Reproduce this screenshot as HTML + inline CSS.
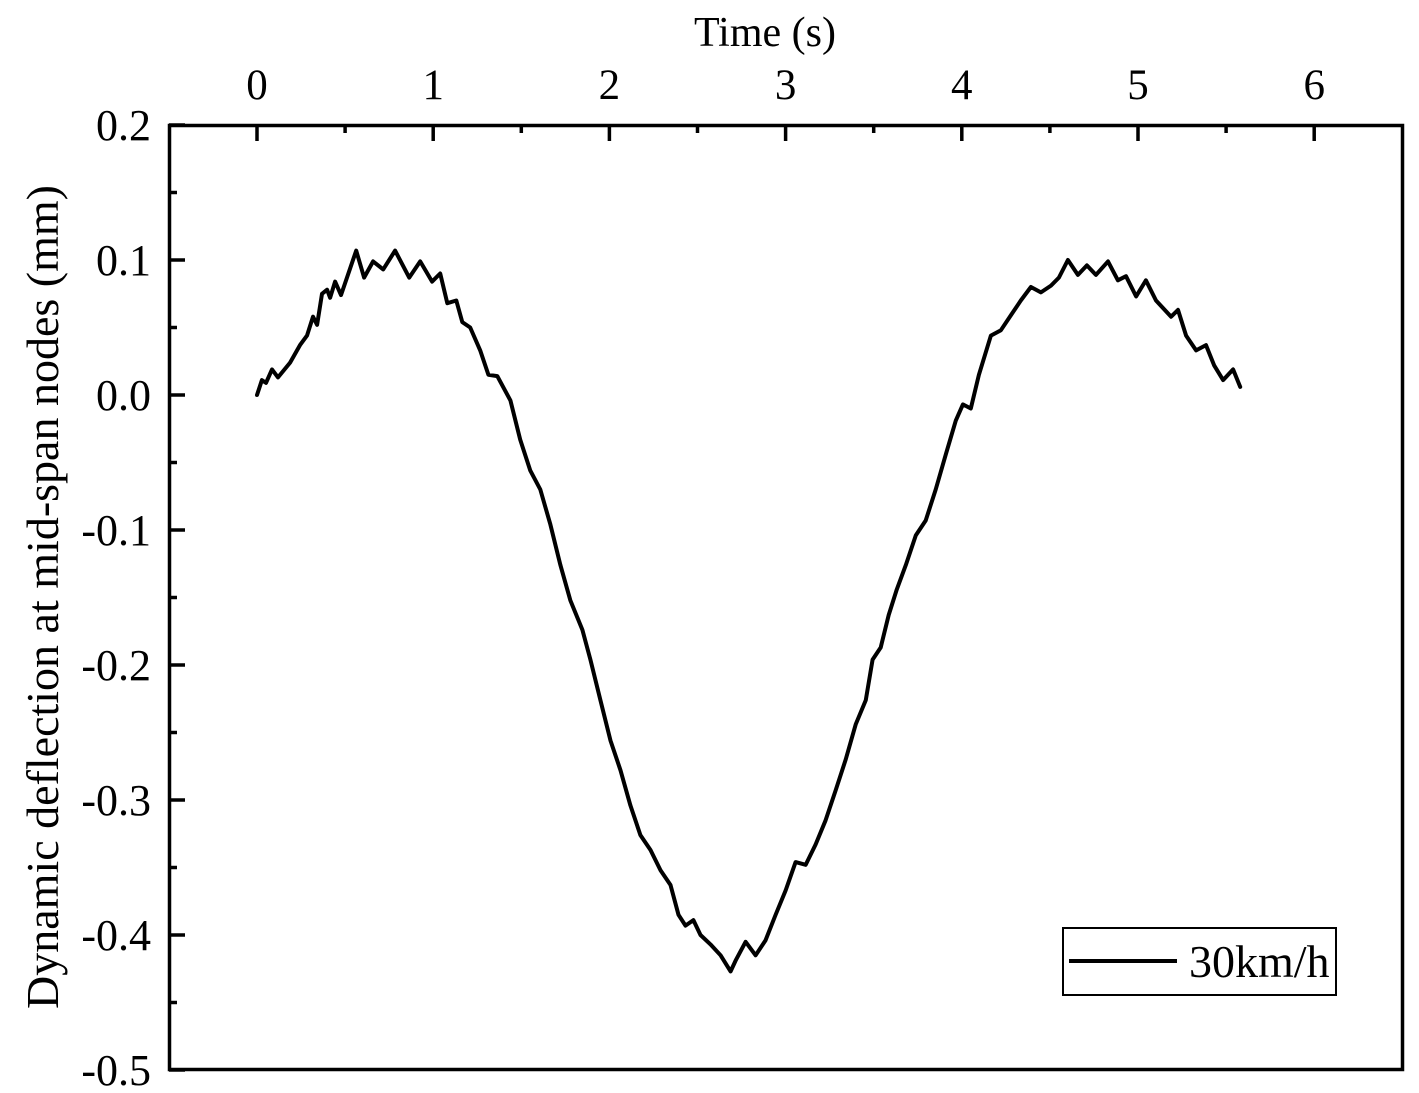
<!DOCTYPE html>
<html><head><meta charset="utf-8"><style>
html,body{margin:0;padding:0;background:#fff;}
svg{display:block;font-family:"Liberation Serif",serif;}
</style></head><body>
<svg id="chart" width="1419" height="1093" viewBox="0 0 1419 1093" xmlns="http://www.w3.org/2000/svg">
<g id="axes"></g>
<polyline id="series" fill="none" stroke="#000" stroke-width="4" stroke-linejoin="round" stroke-linecap="round"/>
<rect x="169.5" y="125.5" width="1233" height="944" fill="none" stroke="#000" stroke-width="3.5"/>
<g>
<rect x="1063" y="928" width="273" height="67" fill="#fff" stroke="#000" stroke-width="2"/>
<line x1="1069" y1="961" x2="1177" y2="961" stroke="#000" stroke-width="4"/>
<text x="1189" y="977" font-size="46">30km/h</text>
</g>
<text x="765" y="46" font-size="42" text-anchor="middle">Time (s)</text>
<text transform="translate(58,597) rotate(-90)" font-size="46" text-anchor="middle">Dynamic deflection at mid-span nodes (mm)</text>
</svg>
<script>
const times = [0,0.028,0.051,0.085,0.119,0.188,0.244,0.284,0.318,0.341,0.369,0.398,0.415,0.443,0.477,0.563,0.608,0.659,0.716,0.784,0.864,0.926,0.994,1.040,1.080,1.131,1.165,1.210,1.267,1.313,1.364,1.438,1.494,1.551,1.608,1.665,1.722,1.778,1.847,1.892,1.949,2.006,2.063,2.119,2.176,2.233,2.290,2.347,2.392,2.432,2.477,2.517,2.574,2.631,2.688,2.716,2.773,2.830,2.886,2.943,3.000,3.057,3.114,3.170,3.227,3.284,3.341,3.398,3.455,3.494,3.540,3.585,3.631,3.682,3.739,3.795,3.852,3.909,3.966,4.006,4.051,4.097,4.165,4.222,4.278,4.335,4.392,4.449,4.506,4.551,4.602,4.659,4.710,4.761,4.830,4.886,4.932,4.989,5.045,5.102,5.188,5.227,5.273,5.330,5.386,5.432,5.483,5.540,5.580];
const deflection = [0,0.011,0.009,0.019,0.013,0.024,0.037,0.044,0.058,0.052,0.075,0.078,0.072,0.084,0.074,0.107,0.087,0.099,0.093,0.107,0.087,0.099,0.084,0.090,0.068,0.070,0.054,0.050,0.033,0.015,0.014,-0.004,-0.033,-0.056,-0.070,-0.096,-0.126,-0.152,-0.174,-0.196,-0.226,-0.256,-0.278,-0.304,-0.326,-0.337,-0.352,-0.363,-0.385,-0.393,-0.389,-0.400,-0.407,-0.415,-0.427,-0.419,-0.405,-0.415,-0.404,-0.385,-0.367,-0.346,-0.348,-0.333,-0.315,-0.293,-0.270,-0.244,-0.226,-0.196,-0.187,-0.163,-0.144,-0.126,-0.104,-0.093,-0.070,-0.044,-0.019,-0.007,-0.010,0.015,0.044,0.048,0.059,0.070,0.080,0.076,0.081,0.087,0.100,0.089,0.096,0.089,0.099,0.085,0.088,0.073,0.085,0.070,0.058,0.063,0.044,0.033,0.037,0.022,0.011,0.019,0.006];
const xTicks = [0,1,2,3,4,5,6];
const yTicks = [0.2,0.1,0.0,-0.1,-0.2,-0.3,-0.4,-0.5];
const yTickLabels = ["0.2","0.1","0.0","-0.1","-0.2","-0.3","-0.4","-0.5"];

const X = t => 257 + 176.2 * t;
const Y = v => 395 - 1350 * v;
const NS = "http://www.w3.org/2000/svg";
const axes = document.getElementById('axes');
function mk(tag, attrs){const e=document.createElementNS(NS,tag);for(const k in attrs)e.setAttribute(k,attrs[k]);return e;}

xTicks.forEach(t=>{
  const l=mk('line',{x1:X(t),x2:X(t),y1:125,y2:141,stroke:'#000','stroke-width':3.5});
  
  
  axes.appendChild(l);
  if(t<6){
    const m=mk('line',{x1:X(t+0.5),x2:X(t+0.5),y1:125,y2:133,stroke:'#000','stroke-width':3.5});
    
    
    axes.appendChild(m);
  }
  const tx=mk('text',{x:X(t),y:99,'font-size':43,'text-anchor':'middle'});
  tx.textContent=String(t);
  
  
  axes.appendChild(tx);
});
yTicks.forEach((v,i)=>{
  const l=mk('line',{x1:169,x2:185,y1:Y(v),y2:Y(v),stroke:'#000','stroke-width':3.5});
  
  
  axes.appendChild(l);
  if(i<yTicks.length-1){
    const m=mk('line',{x1:169,x2:177,y1:Y(v-0.05),y2:Y(v-0.05),stroke:'#000','stroke-width':3.5});
    
    
    axes.appendChild(m);
  }
  const tx=mk('text',{x:151,y:Y(v)+15,'font-size':44,'text-anchor':'end'});
  tx.textContent=yTickLabels[i];
  
  
  axes.appendChild(tx);
});
document.getElementById('series').setAttribute('points', times.map((t,i)=>X(t).toFixed(1)+','+Y(deflection[i]).toFixed(1)).join(' '));
</script>
</body></html>
